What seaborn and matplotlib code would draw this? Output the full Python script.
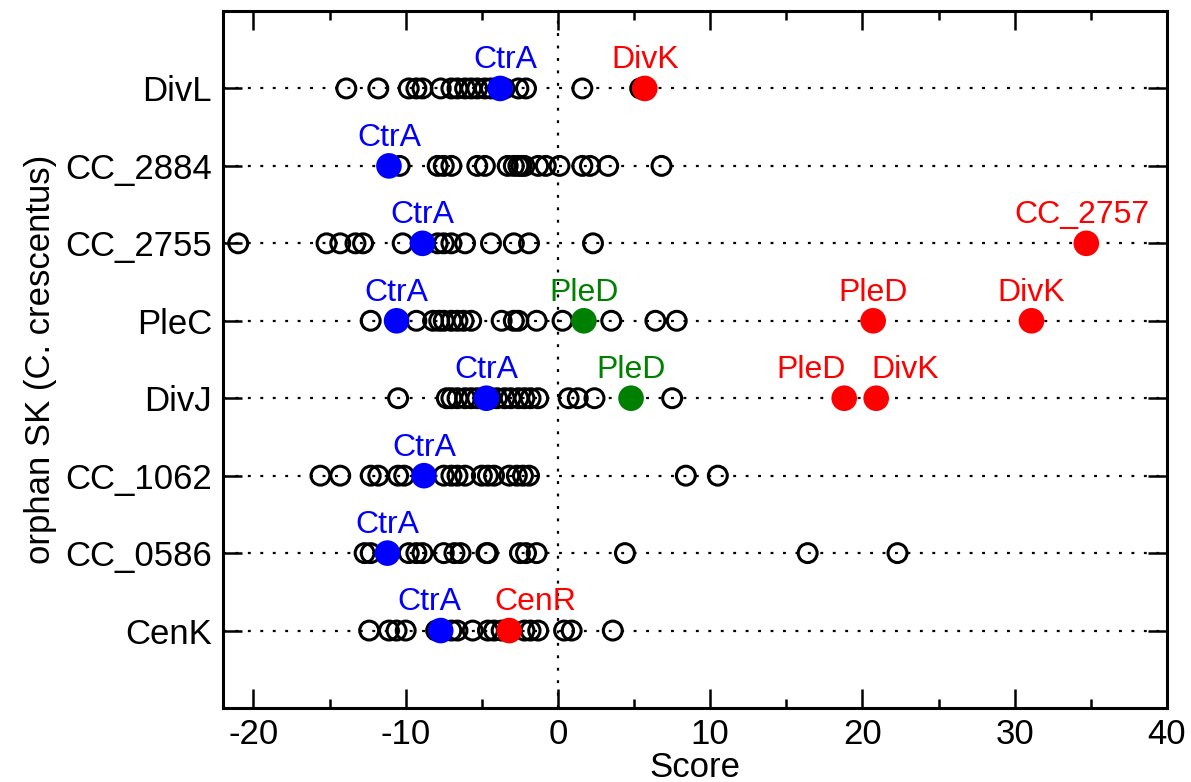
import matplotlib
matplotlib.use("Agg")
import matplotlib.pyplot as plt
import numpy as np
import pandas as pd
import seaborn as sns

# Orphan sensor kinases of C. crescentus (top to bottom)
proteins = ["DivL", "CC_2884", "CC_2755", "PleC", "DivJ", "CC_1062", "CC_0586", "CenK"]

# Scores of all other response regulators against each kinase
divl_scores = [-13.9, -11.8, -9.8, -9.3, -8.9, -7.7, -7.0, -6.6, -6.1, -5.7, -5.3,
               -4.8, -4.4, -3.5, -2.6, -2.1, 1.6, 5.4]
cc2884_scores = [-10.4, -7.9, -7.5, -7.0, -5.3, -4.8, -3.3, -2.9, -2.6, -2.4, -2.2,
                 -1.3, -0.8, 0.1, 1.6, 2.1, 3.3, 6.8]
cc2755_scores = [-21.0, -15.2, -14.3, -13.3, -12.8, -10.2, -7.9, -7.5, -7.0, -6.1,
                 -4.4, -2.9, -1.9, 2.3]
plec_scores = [-12.3, -9.3, -8.2, -7.8, -7.5, -7.0, -6.6, -6.2, -5.7, -3.7, -2.9,
               -2.6, -1.4, 0.3, 3.5, 6.4, 7.8]
divj_scores = [-10.5, -7.3, -7.0, -6.6, -6.1, -5.7, -5.3, -4.9, -4.4, -4.0, -3.5,
               -3.1, -2.6, -2.2, -1.8, -1.3, 0.7, 1.3, 2.4, 7.5]
cc1062_scores = [-15.6, -14.3, -12.3, -11.8, -10.5, -10.1, -7.5, -7.0, -6.6, -6.1,
                 -5.0, -4.6, -4.2, -3.2, -2.7, -2.3, -1.9, 8.4, 10.5]
cc0586_scores = [-12.7, -12.3, -9.8, -9.3, -8.9, -7.5, -6.8, -6.4, -4.7, -4.6, -2.5,
                 -2.1, -1.4, 4.4, 16.4, 22.3]
cenk_scores = [-12.4, -11.1, -10.6, -10.0, -8.0, -7.0, -6.6, -5.6, -4.6, -4.2, -3.7,
               -2.2, -1.8, -1.3, 0.4, 0.9, 3.6]

# Named response regulators
hl_protein = ["DivL", "DivL", "CC_2884", "CC_2755", "CC_2755", "PleC", "PleC", "PleC",
              "PleC", "DivJ", "DivJ", "DivJ", "DivJ", "CC_1062", "CC_0586", "CenK", "CenK"]
hl_partner = ["CtrA", "DivK", "CtrA", "CtrA", "CC_2757", "CtrA", "PleD", "PleD",
              "DivK", "CtrA", "PleD", "PleD", "DivK", "CtrA", "CtrA", "CtrA", "CenR"]
hl_score = [-3.8, 5.7, -11.1, -8.9, 34.7, -10.6, 1.7, 20.7, 31.1, -4.7, 4.8, 18.8,
            20.9, -8.8, -11.2, -7.7, -3.2]
hl_kind = ["ctra", "known", "ctra", "ctra", "known", "ctra", "pled", "known", "known",
           "ctra", "pled", "known", "known", "ctra", "ctra", "ctra", "known"]

# Horizontal label shifts (points) where neighbouring labels would collide
label_dx = [4, 0, 0, 0, -3, 0, 0, 0, 0, 0, 0, -24, 21, 0, 0, -8, 19]

kind_colors = {"ctra": "#0000FF", "known": "#FF0000", "pled": "#008000"}

all_scores = [divl_scores, cc2884_scores, cc2755_scores, plec_scores, divj_scores,
              cc1062_scores, cc0586_scores, cenk_scores]
row_pos = {p: len(proteins) - i for i, p in enumerate(proteins)}

bg = pd.DataFrame({
    "score": np.concatenate([np.asarray(s, float) for s in all_scores]),
    "protein": np.repeat(proteins, [len(s) for s in all_scores]),
})
bg["row"] = bg["protein"].map(row_pos)

hl = pd.DataFrame({"protein": hl_protein, "partner": hl_partner,
                   "score": hl_score, "kind": hl_kind, "dx": label_dx})
hl["row"] = hl["protein"].map(row_pos)

plt.rcParams["font.family"] = ["Liberation Sans", "DejaVu Sans"]
plt.rcParams["axes.unicode_minus"] = False

fig = plt.figure(figsize=(11.91, 7.82), dpi=100)
ax = fig.add_axes([223 / 1191, 74 / 782, 944 / 1191, 697 / 782])

dots = (0, (1.3, 4.3))
for p in proteins:
    ax.axhline(row_pos[p], color="black", lw=1.6, ls=dots, zorder=1)
ax.axvline(0, color="black", lw=1.6, ls=dots, zorder=1)

sns.scatterplot(data=bg, x="score", y="row", ax=ax, marker="o", s=185,
                facecolors="none", edgecolor="black", linewidth=2.2,
                zorder=3, legend=False)
sns.scatterplot(data=hl, x="score", y="row", hue="kind", palette=kind_colors,
                ax=ax, marker="o", s=340, linewidth=0, zorder=4, legend=False)

for _, r in hl.iterrows():
    ax.annotate(r["partner"], xy=(r["score"], r["row"]),
                xytext=(r["dx"], 14.5), textcoords="offset points",
                ha="center", va="baseline", fontsize=23,
                color=kind_colors[r["kind"]], zorder=5)

ax.set_xlim(-22, 40)
ax.set_ylim(0, len(proteins) + 1)
ax.set_xticks([-20, -10, 0, 10, 20, 30, 40])
ax.set_xticks([-15, -5, 5, 15, 25, 35], minor=True)
ax.set_yticks([row_pos[p] for p in proteins])
ax.set_yticklabels(proteins)

ax.tick_params(which="both", direction="in", top=True, right=True,
               width=1.8, color="black")
ax.tick_params(which="major", length=13.5)
ax.tick_params(which="minor", length=6.5)
ax.tick_params(axis="x", labelsize=25, pad=7)
ax.tick_params(axis="y", labelsize=25, pad=8)

for sp in ax.spines.values():
    sp.set_linewidth(2.2)
    sp.set_color("black")

ax.set_xlabel("Score", fontsize=25, labelpad=0)
ax.set_ylabel("orphan SK (C. crescentus)", fontsize=25, labelpad=6)

fig.savefig("out.png", dpi=100)
